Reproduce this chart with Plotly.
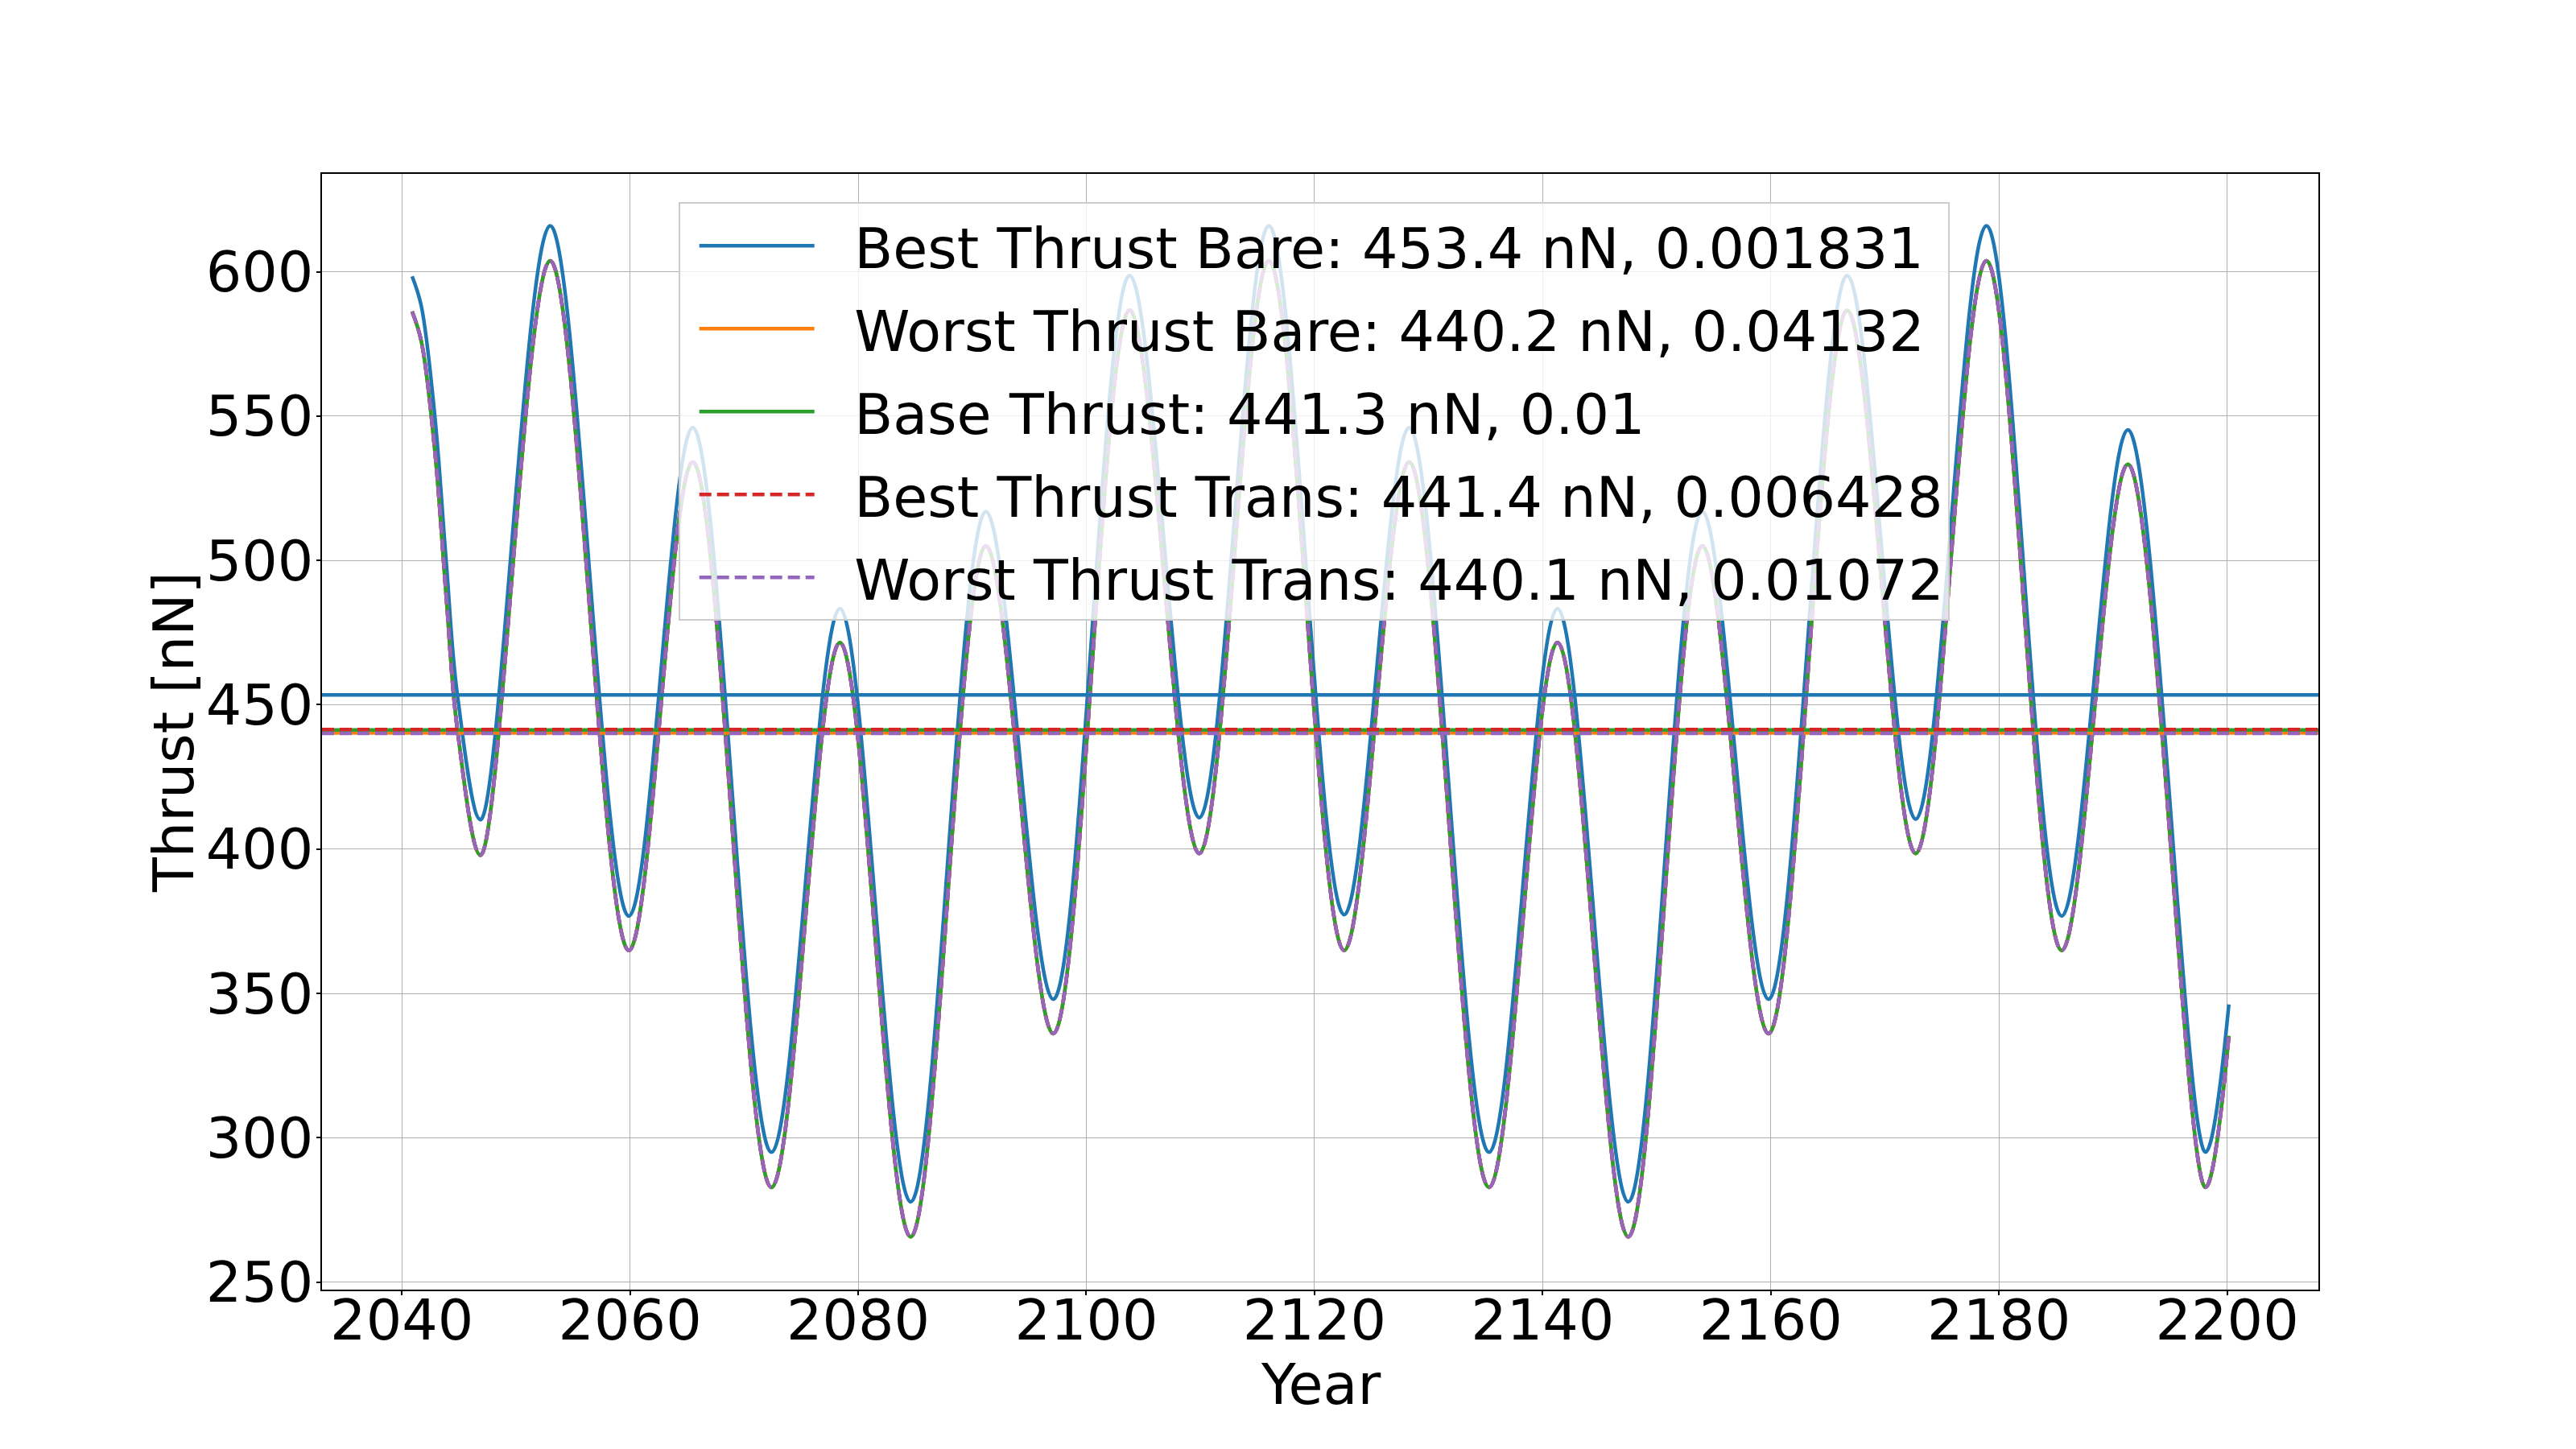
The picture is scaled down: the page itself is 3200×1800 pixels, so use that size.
import plotly.graph_objects as go

# values: start of the run, then every
# turning point, then the last sample
years = [
    2040.9, 2041.7, 2042.89, 2043.88, 2044.87, 2046.9, 2053.0, 2059.9, 2065.5,
    2072.4, 2078.4, 2084.6, 2091.2, 2097.1, 2103.8, 2109.9, 2116.0,
    2122.6, 2128.3, 2135.3, 2141.3, 2147.5, 2154.0, 2159.8, 2166.7,
    2172.7, 2178.9, 2185.5, 2191.3, 2198.1, 2200.15,
]
best_bare = [
    598.4, 588.2, 550.0, 500.0, 453.4, 410.2, 615.9, 376.8, 546.0,
    295.0, 483.3, 277.8, 516.9, 348.0, 598.7, 410.9, 615.9,
    377.3, 546.0, 295.0, 483.3, 277.8, 516.9, 348.0, 598.7,
    410.4, 615.9, 376.8, 545.2, 295.0, 346.2,
]
# the four other runs lie on top of each other in the picture
others = [
    586.2, 576.0, 538.0, 488.0, 441.4, 397.9, 603.8, 364.9, 534.1,
    282.8, 471.5, 265.7, 505.0, 336.1, 586.6, 398.5, 603.8,
    364.9, 534.1, 282.8, 471.5, 265.7, 505.0, 336.1, 586.6,
    398.5, 603.8, 364.9, 533.3, 282.8, 335.3,
]

labels = [
    "Best Thrust Bare: 453.4 nN, 0.001831",
    "Worst Thrust Bare: 440.2 nN, 0.04132",
    "Base Thrust: 441.3 nN, 0.01",
    "Best Thrust Trans: 441.4 nN, 0.006428",
    "Worst Thrust Trans: 440.1 nN, 0.01072",
]
means = [453.4, 440.2, 441.3, 441.4, 440.1]
colors = ["#1f77b4", "#ff7f0e", "#2ca02c", "#d62728", "#9467bd"]
dashes = ["solid", "solid", "solid", "15px,7px", "15px,7px"]
series = [best_bare, others, others, others, others]

FONT = "DejaVu Sans"
FS = 70
LW = 4.5

fig = go.Figure()
for i, (name, ys, col, dash) in enumerate(zip(labels, series, colors, dashes)):
    fig.add_trace(go.Scatter(
        x=years, y=ys, mode="lines",
        name="\u00a0\u00a0" + name, legendgroup=f"g{i}",
        line=dict(color=col, width=LW, dash=dash, shape="spline", smoothing=1.0),
    ))

for m, col, dash in zip(means, colors, dashes):
    fig.add_hline(y=m, line=dict(color=col, width=LW, dash=dash))

axis_common = dict(
    showline=True, mirror=True, linecolor="black", linewidth=1.5,
    ticks="outside", ticklen=5, tickwidth=1.5, tickcolor="black",
    showgrid=True, gridcolor="#b0b0b0", gridwidth=1.2,
    zeroline=False,
    tickfont=dict(family=FONT, size=FS, color="black"),
)

fig.update_xaxes(
    range=[2033.0, 2208.0], tickvals=list(range(2040, 2201, 20)),
    ticklabelstandoff=-29,
    **axis_common,
)
fig.update_yaxes(
    range=[247.4, 633.9], tickvals=list(range(250, 601, 50)),
    ticklabelstandoff=-10,
    **axis_common,
)

# axis titles placed where the reference has them
fig.add_annotation(
    text="Year", xref="paper", yref="paper", x=0.5, y=-0.0852,
    xanchor="center", yanchor="middle", showarrow=False,
    font=dict(family=FONT, size=FS, color="black"),
)
fig.add_annotation(
    text="Thrust [nN]", xref="paper", yref="paper", x=-0.0742, y=0.5,
    xanchor="center", yanchor="middle", showarrow=False, textangle=-90,
    font=dict(family=FONT, size=FS, color="black"),
)

fig.update_layout(
    width=3200, height=1800,
    margin=dict(l=400, r=320, t=216, b=198, autoexpand=False),
    paper_bgcolor="white", plot_bgcolor="white",
    font=dict(family=FONT, size=FS, color="black"),
    showlegend=True,
    legend=dict(
        x=0.1785, y=0.9745, xanchor="left", yanchor="top",
        bgcolor="rgba(255,255,255,0.8)", bordercolor="#cccccc", borderwidth=2,
        font=dict(family=FONT, size=FS, color="black"),
        itemwidth=143, indentation=19,
        traceorder="grouped", tracegroupgap=9,
    ),
)

fig.write_html(
    "out.html",
    config={"displayModeBar": False},
    post_script="document.body.style.margin='0px';",
)
